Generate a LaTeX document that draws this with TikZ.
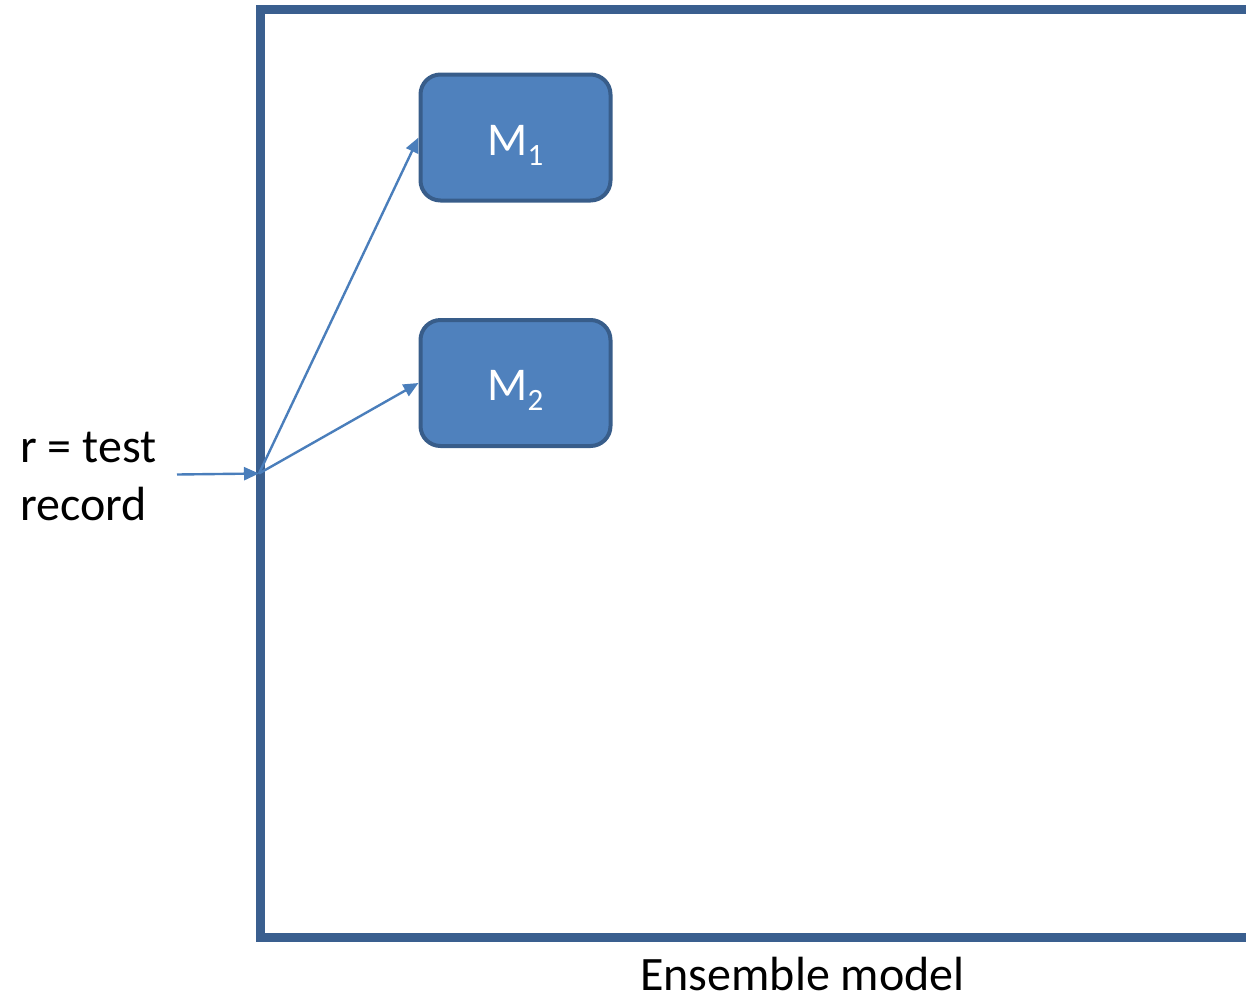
\documentclass[tikz,border=0pt]{standalone}
\usepackage{fontspec}
\setmainfont{Carlito}
\usetikzlibrary{arrows.meta}
\definecolor{framecol}{HTML}{3A5F8F}
\definecolor{boxfill}{HTML}{4F81BD}
\definecolor{boxline}{HTML}{385D8A}
\definecolor{arrowcol}{HTML}{4A7EBB}
\tikzset{
  frameline/.style={draw=framecol, line width=9pt, line join=miter},
  modelbox/.style={draw=boxline, fill=boxfill, line width=4pt, rounded corners=20pt,
    minimum width=190pt, minimum height=126pt, inner sep=0pt, text=white,
    text height=35pt, text depth=0pt,
    font=\fontsize{47}{47}\selectfont},
  flow/.style={draw=arrowcol, line width=2.4pt,
    -{Triangle[length=15pt,width=13pt]}},
  lbl/.style={font=\fontsize{48}{58}\selectfont, inner sep=0pt}
}
\newcommand{\subidx}[1]{{\fontsize{31}{31}\selectfont\raisebox{-10pt}{#1}}}
\begin{document}
\begin{tikzpicture}[x=1pt,y=-1pt]
  \useasboundingbox (0,0) rectangle (1246,999);
  \begin{scope}
    \clip (0,0) rectangle (1246,999);
    % ensemble frame, open past the right edge
    \draw[frameline] (1270,9.5) -- (260.5,9.5) -- (260.5,937.5) -- (1270,937.5);
  \end{scope}

  % the two models
  \node[modelbox] (m1) at (515.5,137.5) {M\subidx{1}};
  \node[modelbox] (m2) at (515.5,383) {M\subidx{2}};

  % input record
  \node[lbl, anchor=base west, align=left] (rec) at (20,520) {r = test\\record};
  \coordinate (src) at (177,474.5);
  \coordinate (in) at (259,473.5);

  \draw[flow] (src) -- (in);
  \draw[flow] (in) -- (m1.west);
  \draw[flow] (in) -- (m2.west);

  \node[lbl, anchor=base] (ens) at (802.5,990) {Ensemble model};
\end{tikzpicture}
\end{document}
